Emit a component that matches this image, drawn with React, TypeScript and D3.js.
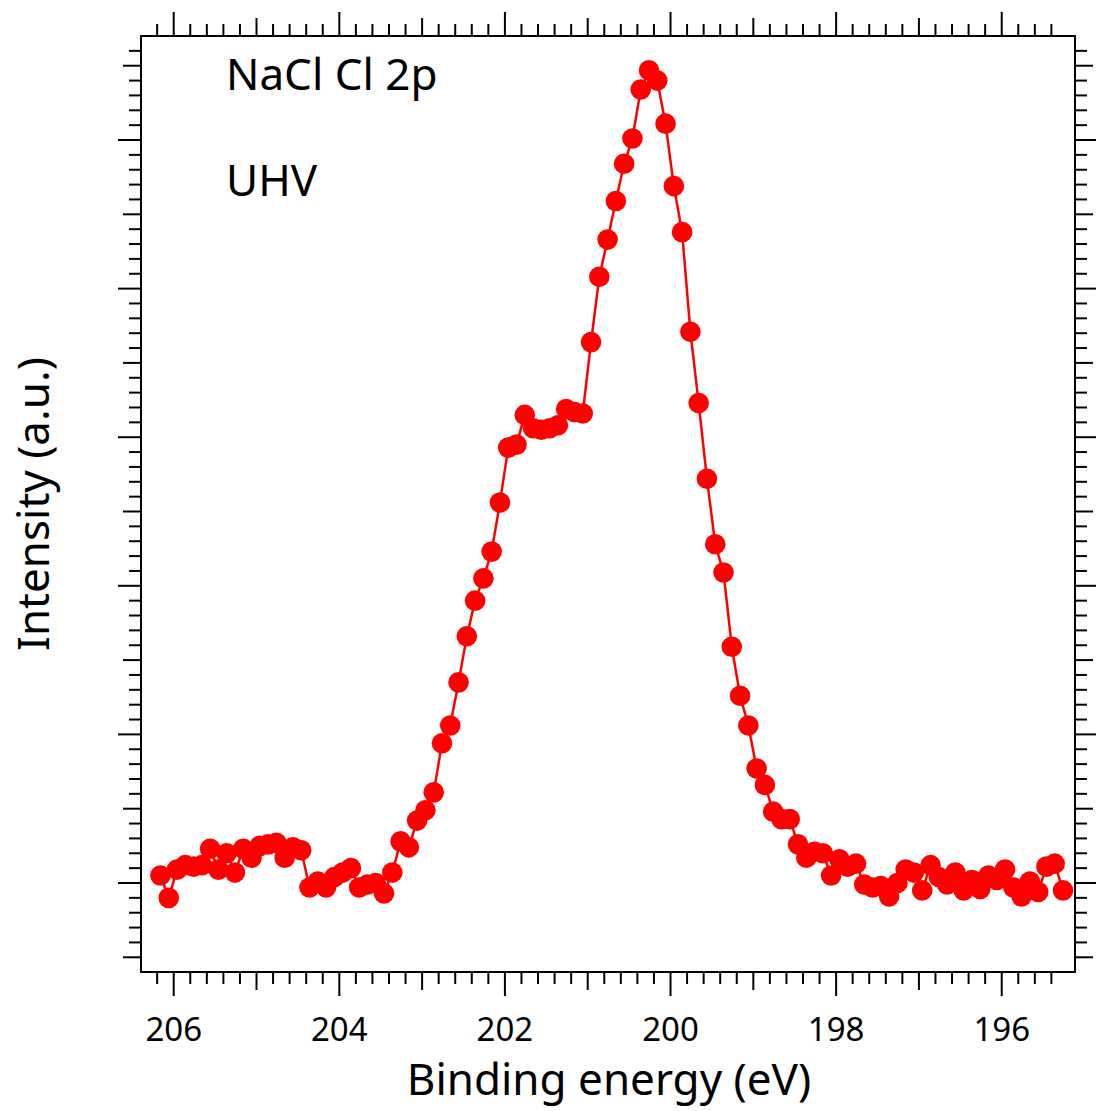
import React from 'react'
import * as d3 from 'd3'

// binding energy (eV), one point every 0.1 eV
const energies = [
	206.16, 206.06, 205.96, 205.86, 205.76, 205.66, 205.56, 205.46, 205.36, 205.26,
	205.16, 205.06, 204.96, 204.86, 204.76, 204.66, 204.56, 204.46, 204.36, 204.26,
	204.16, 204.06, 203.96, 203.86, 203.76, 203.66, 203.56, 203.46, 203.36, 203.26,
	203.16, 203.06, 202.96, 202.86, 202.76, 202.66, 202.56, 202.46, 202.36, 202.26,
	202.16, 202.06, 201.96, 201.86, 201.76, 201.66, 201.56, 201.46, 201.36, 201.26,
	201.16, 201.06, 200.96, 200.86, 200.76, 200.66, 200.56, 200.46, 200.36, 200.26,
	200.16, 200.06, 199.96, 199.86, 199.76, 199.66, 199.56, 199.46, 199.36, 199.26,
	199.16, 199.06, 198.96, 198.86, 198.76, 198.66, 198.56, 198.46, 198.36, 198.26,
	198.16, 198.06, 197.96, 197.86, 197.76, 197.66, 197.56, 197.46, 197.36, 197.26,
	197.16, 197.06, 196.96, 196.86, 196.76, 196.66, 196.56, 196.46, 196.36, 196.26,
	196.16, 196.06, 195.96, 195.86, 195.76, 195.66, 195.56, 195.46, 195.36, 195.26,
]

// intensity (a.u.)
const intensity = [
	0.05, -0.10, 0.09, 0.12, 0.11, 0.12, 0.23, 0.09, 0.20, 0.07,
	0.23, 0.17, 0.25, 0.26, 0.27, 0.17, 0.24, 0.22, -0.03, 0.01,
	-0.03, 0.04, 0.07, 0.10, -0.03, -0.01, 0.00, -0.07, 0.07, 0.28,
	0.24, 0.42, 0.49, 0.61, 0.94, 1.06, 1.35, 1.66, 1.90, 2.05,
	2.23, 2.56, 2.93, 2.95, 3.15, 3.06, 3.05, 3.06, 3.08, 3.19,
	3.17, 3.16, 3.64, 4.08, 4.33, 4.59, 4.84, 5.01, 5.34, 5.47,
	5.40, 5.11, 4.69, 4.38, 3.71, 3.23, 2.72, 2.28, 2.09, 1.59,
	1.26, 1.06, 0.77, 0.66, 0.48, 0.43, 0.43, 0.26, 0.17, 0.21,
	0.20, 0.05, 0.16, 0.11, 0.13, -0.01, -0.03, -0.02, -0.09, 0.00,
	0.09, 0.07, -0.05, 0.12, 0.04, -0.01, 0.07, -0.05, 0.02, -0.04,
	0.05, 0.02, 0.09, -0.03, -0.09, 0.01, -0.06, 0.11, 0.13, -0.05,
]

const xTickLabels = [206, 204, 202, 200, 198, 196]
const annotations = ['NaCl Cl 2p', 'UHV']

const font = '"Noto Sans", "DejaVu Sans", sans-serif'

export default function App() {
	const width = 1096
	const height = 1111
	const left = 141, right = 1075, top = 36, bottom = 972

	const xScale = d3.scaleLinear().domain([206.395, 195.115]).range([left, right])
	const yScale = d3.scaleLinear().domain([-0.599, 5.70]).range([bottom, top])

	const points = energies.map((e, i) => [e, intensity[i]])
	const line = d3.line()
		.x(d => xScale(d[0]))
		.y(d => yScale(d[1]))

	// x ticks every 0.2 eV, medium every 1, major every 2
	const xTicks = d3.range(0, 55).map(i => {
		const k = 2062 - 2 * i
		return {v: k / 10, len: k % 20 === 0 ? 24 : k % 10 === 0 ? 18 : 12}
	})
	// y ticks every 0.1, medium every 0.5, major every 1
	const yTicks = d3.range(-5, 57).map(k => ({
		v: k / 10,
		len: k % 10 === 0 ? 23 : k % 5 === 0 ? 18 : 12,
	}))

	return (
		<svg width={width} height={height} style={{position: 'absolute', left: 0, top: 0}}>
			<rect x={0} y={0} width={width} height={height} fill="#fff"/>
			<g stroke="#000" strokeWidth={2}>
				{xTicks.map((t, i) => (
					<g key={`xt-${i}`}>
						<line x1={xScale(t.v)} x2={xScale(t.v)} y1={bottom} y2={bottom + t.len}/>
						<line x1={xScale(t.v)} x2={xScale(t.v)} y1={top} y2={top - t.len}/>
					</g>
				))}
				{yTicks.map((t, i) => (
					<g key={`yt-${i}`}>
						<line x1={left} x2={left - t.len} y1={yScale(t.v)} y2={yScale(t.v)}/>
						<line x1={right} x2={right + t.len} y1={yScale(t.v)} y2={yScale(t.v)}/>
					</g>
				))}
				<rect x={left} y={top} width={right - left} height={bottom - top} fill="none"/>
			</g>

			<g fontFamily={font} fontSize={33} textAnchor="middle">
				{xTickLabels.map(v => (
					<text key={`xl-${v}`} x={xScale(v)} y={1041}>{v}</text>
				))}
			</g>

			<text x={609} y={1095} fontFamily={font} fontSize={44} textAnchor="middle">Binding energy (eV)</text>
			<text transform="translate(49,504) rotate(-90)" fontFamily={font} fontSize={44} textAnchor="middle">Intensity (a.u.)</text>

			<text x={226} y={90} fontFamily={font} fontSize={44}>{annotations[0]}</text>
			<text x={226} y={196} fontFamily={font} fontSize={44}>{annotations[1]}</text>

			<path d={line(points)} fill="none" stroke="#ff0000" strokeWidth={2.5}/>
			<g fill="#ff0000">
				{points.map((d, i) => (
					<circle key={`pt-${i}`} cx={xScale(d[0])} cy={yScale(d[1])} r={10.3}/>
				))}
			</g>
		</svg>
	)
}
